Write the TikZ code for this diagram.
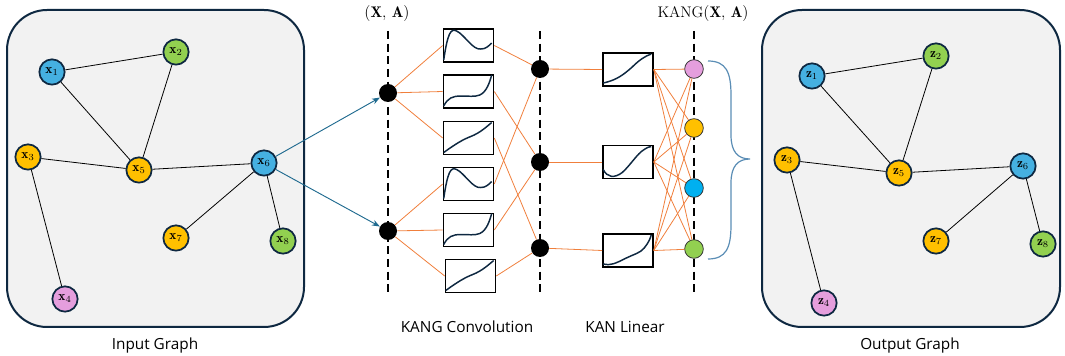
\documentclass[tikz,border=0pt]{standalone}
\usepackage{fontspec}
\setsansfont{Open Sans}
\usetikzlibrary{arrows.meta}
\definecolor{navy}{HTML}{0E2841}
\definecolor{panelgray}{HTML}{F2F2F2}
\definecolor{nblue}{HTML}{45B0E1}
\definecolor{ngreen}{HTML}{92D050}
\definecolor{nyellow}{HTML}{FFC000}
\definecolor{npink}{HTML}{E59EDD}
\definecolor{cyanblue}{HTML}{00B0F0}
\definecolor{edgeorange}{HTML}{F07F3C}
\definecolor{arrowblue}{HTML}{1F6A8F}
\definecolor{bracecol}{HTML}{5A8DB5}
\begin{document}
\begin{tikzpicture}[x=0.75pt,y=-0.75pt,
 panel/.style={draw=navy, line width=1.5pt, fill=panelgray, rounded corners=30pt},
 gnode/.style={circle, draw=navy, line width=1.3pt, minimum size=19pt, inner sep=0pt, font=\fontsize{10}{10}\selectfont},
 gedge/.style={draw=black, line width=0.6pt},
 blackdot/.style={circle, fill=black, minimum size=13.5pt, inner sep=0pt},
 outdot/.style={circle, draw=black!80, line width=0.6pt, minimum size=14pt, inner sep=0pt},
 fbox/.style={draw=black, line width=1.2pt, fill=white, minimum width=37.5pt, minimum height=25pt, inner sep=0pt},
 curvestyle/.style={draw=navy, line width=1.1pt},
 oline/.style={draw=edgeorange, line width=0.6pt},
 dashline/.style={draw=black, line width=1.4pt, dash pattern=on 6pt off 3.5pt},
 lbl/.style={font=\sffamily\fontsize{11.5}{11.5}\selectfont},
 mlbl/.style={font=\fontsize{11.5}{11.5}\selectfont},
 peakcurve/.pic={\draw[curvestyle] (1,32) .. controls (5,5) and (8,0) .. (14,3) .. controls (22,7) and (30,22) .. (38,21) .. controls (43,21) and (46,18) .. (49,15);},
 cubiccurve/.pic={\draw[curvestyle] (1,32) .. controls (5,24) and (10,22) .. (18,22) .. controls (26,22) and (32,23) .. (37,21) .. controls (44,18) and (47,8) .. (49,1);},
 linecurve/.pic={\draw[curvestyle] (1,32) .. controls (12,24) and (20,19) .. (28,16) .. controls (38,12) and (44,6) .. (49,2);},
 sigcurve/.pic={\draw[curvestyle] (1,31) .. controls (15,28) and (22,22) .. (30,15) .. controls (37,8) and (43,4) .. (49,2);},
 dipcurve/.pic={\draw[curvestyle] (1,25) .. controls (5,33) and (12,34) .. (20,28) .. controls (28,21) and (35,9) .. (42,5) .. controls (45,3) and (47,2) .. (49,2);},
 latecurve/.pic={\draw[curvestyle] (1,31) .. controls (8,33) and (14,30) .. (22,26) .. controls (32,21) and (38,20) .. (42,15) .. controls (46,10) and (48,6) .. (49,2);}
]
\useasboundingbox (0,0) rectangle (1065,356);

% panels
\draw[panel] (7,10) rectangle (304,327);
\draw[panel] (762,10) rectangle (1060,327);

% input graph
\node[gnode, fill=nblue]   (x1) at (52,72)  {$\mathbf{x}_1$};
\node[gnode, fill=ngreen]  (x2) at (176,52) {$\mathbf{x}_2$};
\node[gnode, fill=nyellow] (x3) at (28,157) {$\mathbf{x}_3$};
\node[gnode, fill=npink]   (x4) at (65,299) {$\mathbf{x}_4$};
\node[gnode, fill=nyellow] (x5) at (139,170) {$\mathbf{x}_5$};
\node[gnode, fill=nblue]   (x6) at (264,163) {$\mathbf{x}_6$};
\node[gnode, fill=nyellow] (x7) at (176,238) {$\mathbf{x}_7$};
\node[gnode, fill=ngreen]  (x8) at (283,241) {$\mathbf{x}_8$};
\draw[gedge] (x1) -- (x2);
\draw[gedge] (x1) -- (x5);
\draw[gedge] (x2) -- (x5);
\draw[gedge] (x3) -- (x5);
\draw[gedge] (x5) -- (x6);
\draw[gedge] (x6) -- (x7);
\draw[gedge] (x6) -- (x8);
\draw[gedge] (x3) -- (x4);

% output graph
\node[gnode, fill=nblue]   (z1) at (812,76)  {$\mathbf{z}_1$};
\node[gnode, fill=ngreen]  (z2) at (936,56)  {$\mathbf{z}_2$};
\node[gnode, fill=nyellow] (z3) at (787,160) {$\mathbf{z}_3$};
\node[gnode, fill=npink]   (z4) at (824,303) {$\mathbf{z}_4$};
\node[gnode, fill=nyellow] (z5) at (899,173) {$\mathbf{z}_5$};
\node[gnode, fill=nblue]   (z6) at (1023,166) {$\mathbf{z}_6$};
\node[gnode, fill=nyellow] (z7) at (936,241) {$\mathbf{z}_7$};
\node[gnode, fill=ngreen]  (z8) at (1043,244) {$\mathbf{z}_8$};
\draw[gedge] (z1) -- (z2);
\draw[gedge] (z1) -- (z5);
\draw[gedge] (z2) -- (z5);
\draw[gedge] (z3) -- (z5);
\draw[gedge] (z5) -- (z6);
\draw[gedge] (z6) -- (z7);
\draw[gedge] (z6) -- (z8);
\draw[gedge] (z3) -- (z4);

% dashed layer lines
\draw[dashline] (388,31) -- (388,294);
\draw[dashline] (540,31) -- (540,294);
\draw[dashline] (694,31) -- (694,294);

% conv boxes
\node[fbox] (b1) at (468.5,45.5) {};
\node[fbox] (b2) at (468.5,91.5) {};
\node[fbox] (b3) at (468.5,138) {};
\node[fbox] (b4) at (468.5,184) {};
\node[fbox] (b5) at (468.5,230) {};
\node[fbox] (b6) at (470.5,276) {};
\pic at (b1.north west) {peakcurve};
\pic at (b2.north west) {cubiccurve};
\pic at (b3.north west) {linecurve};
\pic at (b4.north west) {peakcurve};
\pic at (b5.north west) {cubiccurve};
\pic at (b6.north west) {linecurve};

% KAN linear boxes
\node[fbox] (k1) at (628,69.5) {};
\node[fbox] (k2) at (628,162) {};
\node[fbox] (k3) at (628,250.5) {};
\pic at (k1.north west) {sigcurve};
\pic at (k2.north west) {dipcurve};
\pic at (k3.north west) {latecurve};

% dots
\node[blackdot] (i1) at (388,93) {};
\node[blackdot] (i2) at (388,231) {};
\node[blackdot] (m1) at (540,69) {};
\node[blackdot] (m2) at (540,162) {};
\node[blackdot] (m3) at (540,248) {};
\node[outdot, fill=npink]    (o1) at (694,69) {};
\node[outdot, fill=nyellow]  (o2) at (694,128) {};
\node[outdot, fill=cyanblue] (o3) at (694,188) {};
\node[outdot, fill=ngreen]   (o4) at (694,249) {};

% orange connections
\foreach \b in {b1,b2,b3} \draw[oline] (i1) -- (\b.west);
\foreach \b in {b4,b5,b6} \draw[oline] (i2) -- (\b.west);
\draw[oline] (b1.east) -- (m1);
\draw[oline] (b2.east) -- (m2);
\draw[oline] (b3.east) -- (m3);
\draw[oline] (b4.east) -- (m1);
\draw[oline] (b5.east) -- (m2);
\draw[oline] (b6.east) -- (m3);
\draw[oline] (m1) -- (k1.west);
\draw[oline] (m2) -- (k2.west);
\draw[oline] (m3) -- (k3.west);
\foreach \k in {k1,k2,k3}
  \foreach \o in {o1,o2,o3,o4}
    \draw[oline] (\k.east) -- (\o);

% arrows from x6
\draw[arrowblue, line width=0.7pt, -{Stealth[length=6pt,width=4.5pt]}] (x6) -- (i1);
\draw[arrowblue, line width=0.7pt, -{Stealth[length=6pt,width=4.5pt]}] (x6) -- (i2);

% brace
\draw[bracecol, line width=0.9pt] (708,61) .. controls (726,61) and (731,72) .. (731,95) -- (731,135) .. controls (731,152) and (738,159) .. (750,159) .. controls (738,159) and (731,166) .. (731,183) -- (731,225) .. controls (731,248) and (726,259) .. (708,259);

% labels
\node[lbl] (lin) at (155,346) {Input Graph};
\node[lbl] (lout) at (910,346) {Output Graph};
\node[lbl] (lconv) at (467,327) {KANG Convolution};
\node[lbl] (llin) at (625,327) {KAN Linear};
\node[mlbl] (lxa) at (387,14) {$\mathbf{(X},\,\mathbf{A)}$};
\node[mlbl] (lkang) at (703,14) {$\mathrm{KANG}\mathbf{(X},\,\mathbf{A)}$};
\end{tikzpicture}
\end{document}
